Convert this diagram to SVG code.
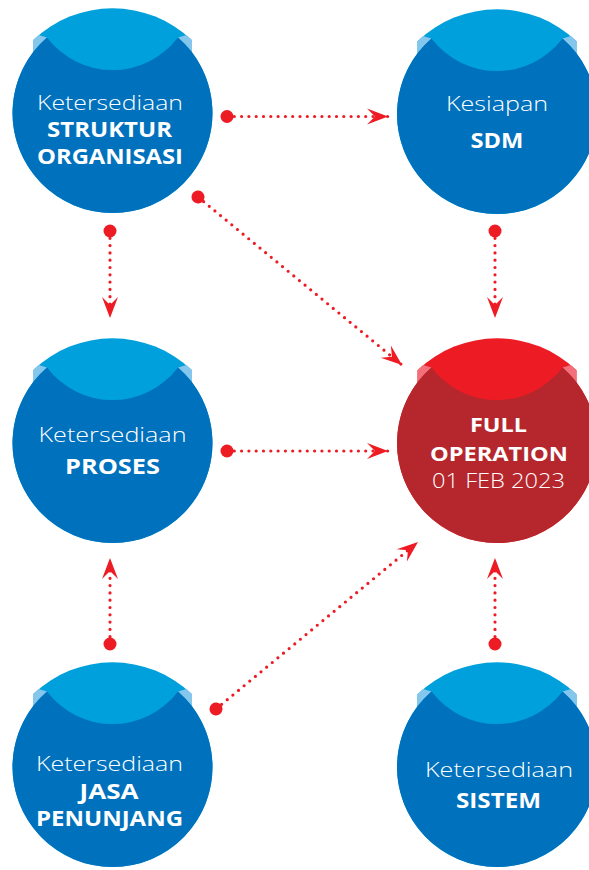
<svg xmlns="http://www.w3.org/2000/svg" width="589" height="870" viewBox="0 0 589 870">
<style>
.lt{font-family:"Open Sans","Liberation Sans",sans-serif;font-weight:300;font-size:21px;fill:#fff;text-anchor:middle}
.bd{font-family:"Open Sans","Liberation Sans",sans-serif;font-weight:700;font-size:21px;fill:#fff;text-anchor:middle}
.sm{font-size:20px}
.con{fill:none;stroke:#ed1c24;stroke-width:3.2;stroke-linecap:round;stroke-dasharray:0 7.3;marker-start:url(#dot);marker-end:url(#arr)}
.blue .cap{fill:#00a0dc}.blue .tab{fill:#84c6ec}.blue .body{fill:#0071bc}
.red .cap{fill:#ed1c24}.red .tab{fill:#f2707a}.red .body{fill:#b5272d}
</style>
<defs>
<path id="capTop" d="M -79.5,-60.7 L -79.5,-72.8 A 115 115 0 0 1 79.5,-72.8 L 79.5,-60.7 Z"/>
<circle id="capCirc" cx="0" cy="0" r="100"/>
<path id="tabs" d="M -65.5,-75.6 A 100 100 0 0 0 -79.5,-60.7 L -79.5,-72.8 A 115 115 0 0 1 -74,-78 Z M 65.5,-75.6 A 100 100 0 0 1 79.5,-60.7 L 79.5,-72.8 A 115 115 0 0 0 74,-78 Z"/>
<path id="bodyP" d="M -65.5,-75.6 A 100 100 0 1 0 65.5,-75.6 A 82 82 0 0 1 -65.5,-75.6 Z"/>
<marker id="dot" viewBox="-8 -8 16 16" refX="0" refY="0" markerUnits="userSpaceOnUse" markerWidth="16" markerHeight="16" orient="auto"><circle r="6.5" fill="#ed1c24"/></marker>
<marker id="arr" viewBox="-24 -10 26 20" refX="0" refY="0" markerUnits="userSpaceOnUse" markerWidth="26" markerHeight="20" orient="auto"><path d="M 0,0 L -21,-8 L -13,0 L -21,8 Z" fill="#ed1c24"/></marker>
</defs>
<g id="connectors">
<line class="con" x1="227" y1="116.5" x2="388" y2="116.5"/>
<line class="con" x1="198" y1="197" x2="402" y2="365"/>
<line class="con" x1="110" y1="231" x2="110" y2="318"/>
<line class="con" x1="495" y1="231" x2="495" y2="318"/>
<line class="con" x1="227" y1="451" x2="388" y2="451"/>
<line class="con" x1="110" y1="644" x2="110" y2="558"/>
<line class="con" x1="495" y1="644" x2="495" y2="558"/>
<line class="con" x1="216" y1="709" x2="418" y2="542"/>
</g>
<g id="node-struktur" class="blue" transform="translate(112.5,113)">
<use href="#capTop" class="cap"/><use href="#capCirc" class="cap"/><use href="#tabs" class="tab"/><use href="#bodyP" class="body"/>
<text class="lt" x="-2.5" y="-3" textLength="146" lengthAdjust="spacingAndGlyphs">Ketersediaan</text>
<text class="bd" x="-3" y="24" textLength="125" lengthAdjust="spacingAndGlyphs">STRUKTUR</text>
<text class="bd" x="-2.5" y="51" textLength="146" lengthAdjust="spacingAndGlyphs">ORGANISASI</text>
</g>
<g id="node-sdm" class="blue" transform="translate(497,114)">
<use href="#capTop" class="cap"/><use href="#capCirc" class="cap"/><use href="#tabs" class="tab"/><use href="#bodyP" class="body"/>
<text class="lt" x="0" y="-3" textLength="102" lengthAdjust="spacingAndGlyphs">Kesiapan</text>
<text class="bd" x="0" y="34" textLength="53" lengthAdjust="spacingAndGlyphs">SDM</text>
</g>
<g id="node-proses" class="blue" transform="translate(112.5,443)">
<use href="#capTop" class="cap"/><use href="#capCirc" class="cap"/><use href="#tabs" class="tab"/><use href="#bodyP" class="body"/>
<text class="lt" x="0" y="-1" textLength="148" lengthAdjust="spacingAndGlyphs">Ketersediaan</text>
<text class="bd" x="0" y="31" textLength="95" lengthAdjust="spacingAndGlyphs">PROSES</text>
</g>
<g id="node-full" class="red" transform="translate(497,443)">
<use href="#capTop" class="cap"/><use href="#capCirc" class="cap"/><use href="#tabs" class="tab"/><use href="#bodyP" class="body"/>
<text class="bd sm" x="1.5" y="-11" textLength="57" lengthAdjust="spacingAndGlyphs">FULL</text>
<text class="bd sm" x="2" y="17.5" textLength="138" lengthAdjust="spacingAndGlyphs">OPERATION</text>
<text class="lt sm" x="1.5" y="44.5" textLength="133" lengthAdjust="spacingAndGlyphs">01 FEB 2023</text>
</g>
<g id="node-jasa" class="blue" transform="translate(112.5,767)">
<use href="#capTop" class="cap"/><use href="#capCirc" class="cap"/><use href="#tabs" class="tab"/><use href="#bodyP" class="body"/>
<text class="lt" x="-3" y="4" textLength="147" lengthAdjust="spacingAndGlyphs">Ketersediaan</text>
<text class="bd" x="-3.5" y="32" textLength="59" lengthAdjust="spacingAndGlyphs">JASA</text>
<text class="bd" x="-3" y="59" textLength="147" lengthAdjust="spacingAndGlyphs">PENUNJANG</text>
</g>
<g id="node-sistem" class="blue" transform="translate(497,767)">
<use href="#capTop" class="cap"/><use href="#capCirc" class="cap"/><use href="#tabs" class="tab"/><use href="#bodyP" class="body"/>
<text class="lt" x="2" y="10" textLength="148" lengthAdjust="spacingAndGlyphs">Ketersediaan</text>
<text class="bd" x="1.5" y="41" textLength="85" lengthAdjust="spacingAndGlyphs">SISTEM</text>
</g>
</svg>
